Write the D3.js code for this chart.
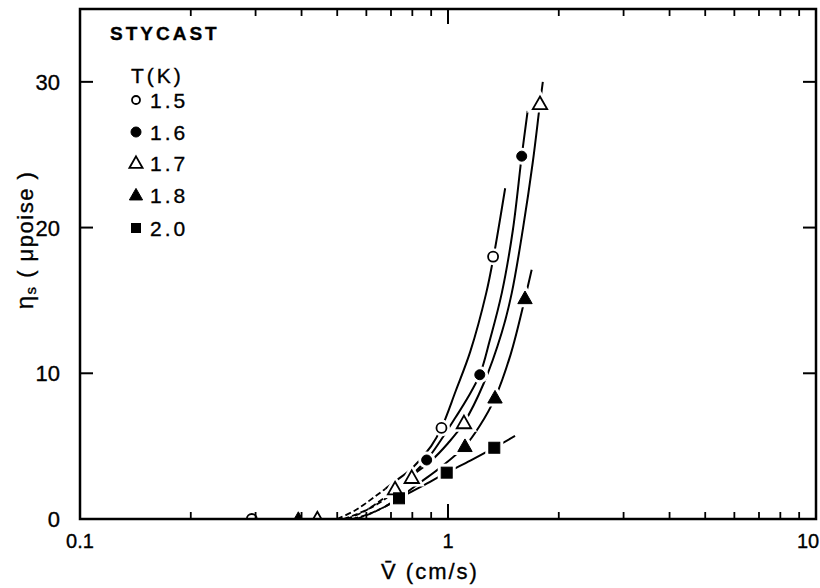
<!DOCTYPE html>
<html>
<head>
<meta charset="utf-8">
<script src="https://cdn.jsdelivr.net/npm/d3@7"></script>
<style>
body{margin:0;background:#fff;}
text{font-family:"Liberation Sans",Arial,sans-serif;fill:#000;stroke:#000;stroke-width:0.35;}
</style>
</head>
<body>
<div id="container"></div>
<script>

var temps = ["1.5","1.6","1.7","1.8","2.0"];
var shapes = ["circleOpen","circleFill","triOpen","triFill","square"];

// measured points, v in cm/s, eta in micropoise
var pts15 = [[0.293,0],[0.96,6.25],[1.326,18.0]];
var pts16 = [[0.875,4.05],[1.22,9.9],[1.586,24.9]];
var pts17 = [[0.4415,0],[0.718,2.06],[0.797,2.84],[1.105,6.6],[1.778,28.5]];
var pts18 = [[0.392,0],[1.112,5.0],[1.342,8.33],[1.619,15.15]];
var pts20 = [[0.736,1.42],[0.992,3.18],[1.336,4.89]];

// fitted curves
var fit15 = [[0.50,0],[0.56,0.6],[0.63,1.5],[0.72,2.6],[0.80,3.5],[0.90,5.0],[0.96,6.25],[1.05,8.8],[1.15,11.5],[1.27,15.5],[1.33,18.0],[1.43,22.7]];
var fit16 = [[0.52,0],[0.58,0.45],[0.65,1.1],[0.72,1.95],[0.80,3.05],[0.875,4.05],[0.95,5.3],[1.05,7.0],[1.13,8.3],[1.22,9.9],[1.30,12.3],[1.40,15.5],[1.50,19.8],[1.586,24.9],[1.646,28.0]];
var fit17 = [[0.53,0],[0.59,0.5],[0.65,1.2],[0.718,2.0],[0.797,2.95],[0.90,4.0],[1.00,5.2],[1.105,6.6],[1.25,9.3],[1.40,12.8],[1.49,15.5],[1.60,20.0],[1.70,24.5],[1.778,28.5],[1.81,30.0]];
var fit18 = [[0.55,0],[0.61,0.35],[0.68,0.9],[0.75,1.6],[0.85,2.6],[0.95,3.5],[1.112,5.0],[1.22,6.4],[1.342,8.3],[1.48,11.3],[1.619,15.15],[1.688,17.1]];
var fit20 = [[0.57,0.05],[0.62,0.4],[0.68,0.9],[0.736,1.42],[0.85,2.25],[0.992,3.18],[1.15,4.0],[1.336,4.89],[1.521,5.7]];

var xMajor = [0.1,1,10];
var xMajorLabels = ["0.1","1","10"];
var yTicks = [0,10,20,30];

var allPts = [pts15,pts16,pts17,pts18,pts20];
var allFits = [fit15,fit16,fit17,fit18,fit20];

var w = 820, h = 588;
var pL = 80, pR = 816, pT = 9, pB = 519;

var svg = d3.select("#container").append("svg").attr("width",w).attr("height",h);

var x = d3.scaleLog().domain([0.1,10]).range([pL,pR]);
var y = d3.scaleLinear().domain([0,35]).range([pB,pT]);

var defs = svg.append("defs");
defs.append("clipPath").attr("id","plotClip").append("rect")
	.attr("x",pL).attr("y",pT).attr("width",pR-pL).attr("height",pB-pT);
// dashed part of the fits is the low-speed end
var vDash = 0.675;
defs.append("clipPath").attr("id","dashClip").append("rect")
	.attr("x",pL).attr("y",pT).attr("width",x(vDash)-pL).attr("height",pB-pT);
defs.append("clipPath").attr("id","solidClip").append("rect")
	.attr("x",x(vDash)).attr("y",pT).attr("width",pR-x(vDash)).attr("height",pB-pT);

var line = d3.line()
	.x(function(d){ return x(d[0]); })
	.y(function(d){ return y(d[1]); })
	.curve(d3.curveCatmullRom.alpha(0.5));

var curves = svg.append("g");
curves.selectAll(".fitSolid")
	.data(allFits)
	.enter()
	.append("path")
	.attr("class","fitSolid")
	.attr("clip-path","url(#solidClip)")
	.attr("d",line)
	.attr("fill","none")
	.attr("stroke","#000")
	.attr("stroke-width",2);
curves.selectAll(".fitDash")
	.data(allFits)
	.enter()
	.append("path")
	.attr("class","fitDash")
	.attr("clip-path","url(#dashClip)")
	.attr("d",line)
	.attr("fill","none")
	.attr("stroke","#000")
	.attr("stroke-width",1.8)
	.attr("stroke-dasharray","6,3");

// marker drawing
function drawMarker(g, shape, cx, cy, s, halo) {
	var el;
	if (shape=="circleOpen" || shape=="circleFill") {
		el = g.append("circle").attr("cx",cx).attr("cy",cy).attr("r",s*0.5);
	} else if (shape=="square") {
		el = g.append("rect").attr("x",cx-s*0.5).attr("y",cy-s*0.5).attr("width",s).attr("height",s);
	} else {
		var a = s*0.6;
		el = g.append("path").attr("d","M"+cx+","+(cy-a)+"L"+(cx+a)+","+(cy+a*0.75)+"L"+(cx-a)+","+(cy+a*0.75)+"Z");
	}
	var open = (shape=="circleOpen" || shape=="triOpen");
	if (halo) {
		el.attr("fill","#fff").attr("stroke","#fff").attr("stroke-width",7);
	} else {
		el.attr("fill",open ? "#fff" : "#000").attr("stroke","#000").attr("stroke-width",open ? 1.8 : 1);
	}
}

var marks = svg.append("g").attr("clip-path","url(#plotClip)");
var sizes = [10,10,12,12,11];
allPts.forEach(function(p,i){
	p.forEach(function(d){
		drawMarker(marks, shapes[i], x(d[0]), y(d[1]), sizes[i], true);
	});
});
allPts.forEach(function(p,i){
	p.forEach(function(d){
		drawMarker(marks, shapes[i], x(d[0]), y(d[1]), sizes[i], false);
	});
});

// frame
svg.append("rect")
	.attr("x",pL).attr("y",pT)
	.attr("width",pR-pL).attr("height",pB-pT)
	.attr("fill","none").attr("stroke","#000").attr("stroke-width",2.5);

// log ticks, inward on bottom and top
var minor = [];
[0.1,1].forEach(function(b){ for (var k=2;k<10;k++) minor.push(b*k); });
var ticks = svg.append("g");
ticks.selectAll(".minB").data(minor).enter().append("line")
	.attr("x1",function(d){return x(d);}).attr("x2",function(d){return x(d);})
	.attr("y1",pB).attr("y2",pB-7)
	.attr("stroke","#000").attr("stroke-width",1.8);
ticks.selectAll(".minT").data(minor).enter().append("line")
	.attr("x1",function(d){return x(d);}).attr("x2",function(d){return x(d);})
	.attr("y1",pT).attr("y2",pT+7)
	.attr("stroke","#000").attr("stroke-width",1.8);
ticks.selectAll(".majB").data(xMajor).enter().append("line")
	.attr("x1",function(d){return x(d);}).attr("x2",function(d){return x(d);})
	.attr("y1",pB).attr("y2",pB-15)
	.attr("stroke","#000").attr("stroke-width",2);
ticks.selectAll(".majT").data(xMajor).enter().append("line")
	.attr("x1",function(d){return x(d);}).attr("x2",function(d){return x(d);})
	.attr("y1",pT).attr("y2",pT+15)
	.attr("stroke","#000").attr("stroke-width",2);
ticks.selectAll(".yL").data(yTicks).enter().append("line")
	.attr("x1",pL).attr("x2",pL+13)
	.attr("y1",function(d){return y(d);}).attr("y2",function(d){return y(d);})
	.attr("stroke","#000").attr("stroke-width",2);
ticks.selectAll(".yR").data(yTicks).enter().append("line")
	.attr("x1",pR).attr("x2",pR-13)
	.attr("y1",function(d){return y(d);}).attr("y2",function(d){return y(d);})
	.attr("stroke","#000").attr("stroke-width",2);

// tick labels
svg.selectAll(".xLab").data(xMajor).enter().append("text")
	.attr("x",function(d,i){return i==2 ? x(d)-8 : x(d);})
	.attr("y",548)
	.attr("text-anchor","middle")
	.attr("font-size",20)
	.text(function(d,i){return xMajorLabels[i];});
svg.selectAll(".yLab").data(yTicks).enter().append("text")
	.attr("x",60)
	.attr("y",function(d){return y(d)+8;})
	.attr("text-anchor","end")
	.attr("font-size",22)
	.text(function(d){return d;});

// axis titles
svg.append("text")
	.attr("x",430).attr("y",579)
	.attr("text-anchor","middle")
	.attr("font-size",22)
	.attr("letter-spacing",2)
	.text("V\u0304 (cm/s)");
var yt = svg.append("text")
	.attr("transform","translate(33,240) rotate(-90)")
	.attr("text-anchor","middle")
	.attr("font-size",22)
	.attr("letter-spacing",1.5);
yt.append("tspan").attr("font-size",24).text("\u03b7");
yt.append("tspan").attr("font-size",15).attr("dy",3).text("s");
yt.append("tspan").attr("dy",-3).text(" ( \u03bcpoise )");

// legend
svg.append("text").attr("x",110).attr("y",40)
	.attr("font-size",19).attr("font-weight","bold").attr("letter-spacing",3)
	.text("STYCAST");
svg.append("text").attr("x",131).attr("y",83)
	.attr("font-size",21).attr("letter-spacing",3)
	.text("T(K)");
var legY = [100,132,163,195,228];
var legSize = [8,10,11,11,9];
var leg = svg.append("g");
temps.forEach(function(t,i){
	drawMarker(leg, shapes[i], 136, legY[i], legSize[i], false);
	leg.append("text").attr("x",150).attr("y",legY[i]+8)
		.attr("font-size",21).attr("letter-spacing",3)
		.text(t);
});

</script>
</body>
</html>
